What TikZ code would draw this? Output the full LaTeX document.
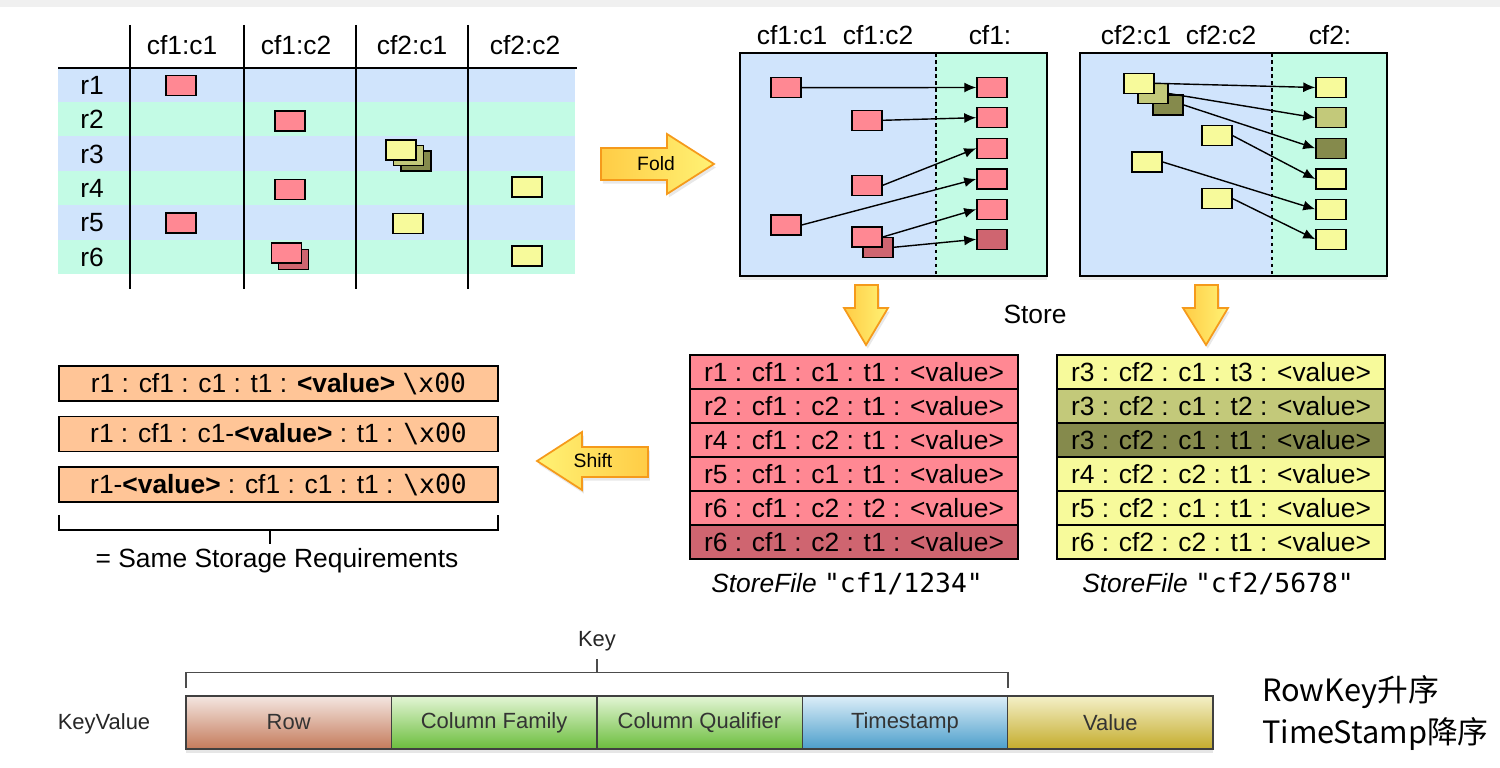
\documentclass[tikz,border=0pt]{standalone}
\usepackage{fontspec}
\setmainfont{Liberation Sans}
\setmonofont{DejaVu Sans Mono}
\newfontfamily\cjk{Noto Sans CJK SC}
\usepackage{xcolor}
\usepackage{tikz}
\usetikzlibrary{positioning,shadows,arrows.meta}
\definecolor{cellpink}{HTML}{FF8893}
\definecolor{cellpinkdk}{HTML}{CF6570}
\definecolor{cellyel}{HTML}{F7FA9B}
\definecolor{cellolv}{HTML}{C3C97A}
\definecolor{cellolvdk}{HTML}{858A4C}
\definecolor{bandblue}{HTML}{D0E4FC}
\definecolor{bandgreen}{HTML}{C3FBE5}
\definecolor{keypeach}{HTML}{FFC597}
\definecolor{arroworange}{HTML}{F59A1B}
\definecolor{arrowdark}{HTML}{FFCC45}
\definecolor{arrowlight}{HTML}{FFF275}
\definecolor{rowtop}{HTML}{F4E6E1}
\definecolor{rowbot}{HTML}{C47B5B}
\definecolor{cftop}{HTML}{E3F5D5}
\definecolor{cfbot}{HTML}{6BBD3C}
\definecolor{tstop}{HTML}{DCEEF8}
\definecolor{tsbot}{HTML}{4C9ECB}
\definecolor{valtop}{HTML}{F4F0C8}
\definecolor{valbot}{HTML}{C4AC2C}
\newcommand{\cellfont}{\fontsize{15}{18}\selectfont}
\newcommand{\barfont}{\fontsize{12.5}{15}\selectfont}
\tikzstyle{cell}=[draw=black,line width=0.85pt,minimum width=6mm,minimum height=4mm,inner sep=0pt]
\tikzstyle{entry}=[draw=black,line width=0.85pt,minimum width=65.6mm,minimum height=6.8mm,inner sep=0pt,font=\cellfont]
\tikzstyle{keyrow}=[draw=black,line width=0.85pt,fill=keypeach,minimum width=87.8mm,minimum height=7mm,inner sep=0pt,font=\cellfont]
\tikzstyle{blockarrow}=[draw=arroworange,line width=1pt,left color=arrowdark,right color=arrowlight,drop shadow={opacity=0.18,shadow xshift=1pt,shadow yshift=-2pt}]
\tikzstyle{kvpart}=[draw=black!75,line width=0.8pt,minimum width=41.08mm,minimum height=10.6mm,inner sep=0pt,font=\barfont,text=black!80,drop shadow={opacity=0.2,shadow xshift=0pt,shadow yshift=-2.5pt}]
\tikzset{>={Latex[length=2.4mm,width=2mm]}}

\begin{document}
\begin{tikzpicture}[x=0.2mm,y=-0.2mm]
\useasboundingbox (0,0) rectangle (1500,768);
\fill[black!6] (0,0) rectangle (1500,7);
% table of rows and columns
\foreach \i/\c in {1/bandblue,2/bandgreen,3/bandblue,4/bandgreen,5/bandblue,6/bandgreen}
  \fill[\c] (58,{67.7+(\i-1)*34.4}) rectangle (575,{67.7+\i*34.4});
\draw[line width=1.2pt] (58,67.7) -- (577,67.7);
\foreach \x in {130,244,356,468}
  \draw[line width=1.2pt] (\x,25) -- (\x,289);
\foreach \x/\t [count=\k] in {182/cf1:c1,296/cf1:c2,412/cf2:c1,525/cf2:c2}
  \node[font=\cellfont] (col\k) at (\x,45) {\t};
\foreach \i in {1,...,6}
  \node[font=\cellfont] (row\i) at (92,{85.2+(\i-1)*34.4}) {r\i};
\node[cell,fill=cellpink] (t11) at (181,85.5) {};
\node[cell,fill=cellpink] (t22) at (290,121) {};
\node[cell,fill=cellolvdk] (t33c) at (416,161) {};
\node[cell,fill=cellolv] (t33b) at (408.5,155.5) {};
\node[cell,fill=cellyel] (t33a) at (401,150) {};
\node[cell,fill=cellpink] (t42) at (290,189.5) {};
\node[cell,fill=cellyel] (t44) at (527,187) {};
\node[cell,fill=cellpink] (t51) at (181,223) {};
\node[cell,fill=cellyel] (t53) at (408,223.5) {};
\node[cell,fill=cellpinkdk] (t62b) at (293.5,259.5) {};
\node[cell,fill=cellpink] (t62a) at (286.5,253) {};
\node[cell,fill=cellyel] (t64) at (527,256) {};
% fold
\draw[blockarrow] (601,148) -- (667,148) -- (667,134) -- (714,164) -- (667,194) -- (667,180) -- (601,180) -- cycle;
\node[font=\fontsize{11}{13}\selectfont] (fold) at (656,164) {Fold};
% store cf1
\fill[bandblue,drop shadow={opacity=0.15,shadow xshift=0pt,shadow yshift=-2pt}] (740,53) rectangle (1047,276);
\fill[bandgreen] (936,53) rectangle (1047,276);
\draw[dash pattern=on 2pt off 2pt,line width=0.8pt] (936,53) -- (936,276);
\draw[line width=1.2pt] (740,53) rectangle (1047,276);
\node[font=\cellfont] (h1) at (792,35) {cf1:c1};
\node[font=\cellfont] (h2) at (878,35) {cf1:c2};
\node[font=\cellfont] (h3) at (990,35) {cf1:};
\foreach \i/\y/\c in {1/87.5/cellpink,2/117.7/cellpink,3/148.3/cellpink,4/179/cellpink,5/209.3/cellpink,6/239.3/cellpinkdk}
  \node[cell,fill=\c] (fa\i) at (992,\y) {};
\foreach \i/\x/\y/\c in {1/786/87.7/cellpink,2/867/120.3/cellpink,3/867/185.3/cellpink,4/786/225/cellpink,6/878/247.3/cellpinkdk,5/867/237/cellpink}
  \node[cell,fill=\c] (ca\i) at (\x,\y) {};
\foreach \i in {1,...,6}
  \draw[->,line width=0.8pt] (ca\i.east) -- (fa\i.west);
% store cf2
\fill[bandblue,drop shadow={opacity=0.15,shadow xshift=0pt,shadow yshift=-2pt}] (1080,53) rectangle (1387,276);
\fill[bandgreen] (1272,53) rectangle (1387,276);
\draw[dash pattern=on 2pt off 2pt,line width=0.8pt] (1272,53) -- (1272,276);
\draw[line width=1.2pt] (1080,53) rectangle (1387,276);
\node[font=\cellfont] (h4) at (1136,35) {cf2:c1};
\node[font=\cellfont] (h5) at (1221,35) {cf2:c2};
\node[font=\cellfont] (h6) at (1330,35) {cf2:};
\foreach \i/\y/\c in {1/87.5/cellyel,2/117.7/cellolv,3/148.3/cellolvdk,4/179/cellyel,5/209.3/cellyel,6/239.3/cellyel}
  \node[cell,fill=\c] (fb\i) at (1331,\y) {};
\foreach \i/\x/\y/\c in {3/1168/105/cellolvdk,2/1153/93.5/cellolv,1/1139/83.3/cellyel,4/1217/135.7/cellyel,5/1147/162/cellyel,6/1217/198.7/cellyel}
  \node[cell,fill=\c] (cb\i) at (\x,\y) {};
\foreach \i in {1,...,6}
  \draw[->,line width=0.8pt] (cb\i.east) -- (fb\i.west);
% store arrows
\draw[blockarrow] (855,285) -- (878,285) -- (878,308) -- (888,308) -- (866,345) -- (844,308) -- (855,308) -- cycle;
\draw[blockarrow] (1195,285) -- (1218,285) -- (1218,308) -- (1228,308) -- (1206,345) -- (1183,308) -- (1195,308) -- cycle;
\node[font=\cellfont] (store) at (1035,314) {Store};
% store files
\foreach \i/\t/\c in {1/{r1 : cf1 : c1 : t1 : <value>}/cellpink,2/{r2 : cf1 : c2 : t1 : <value>}/cellpink,3/{r4 : cf1 : c2 : t1 : <value>}/cellpink,4/{r5 : cf1 : c1 : t1 : <value>}/cellpink,5/{r6 : cf1 : c2 : t2 : <value>}/cellpink,6/{r6 : cf1 : c2 : t1 : <value>}/cellpinkdk}
  \node[entry,fill=\c] (sa\i) at (854,{338+\i*34}) {\t};
\foreach \i/\t/\c in {1/{r3 : cf2 : c1 : t3 : <value>}/cellyel,2/{r3 : cf2 : c1 : t2 : <value>}/cellolv,3/{r3 : cf2 : c1 : t1 : <value>}/cellolvdk,4/{r4 : cf2 : c2 : t1 : <value>}/cellyel,5/{r5 : cf2 : c1 : t1 : <value>}/cellyel,6/{r6 : cf2 : c2 : t1 : <value>}/cellyel}
  \node[entry,fill=\c] (sb\i) at (1221,{338+\i*34}) {\t};
\node[font=\cellfont] (fa) at (847,584) {\textit{StoreFile} \texttt{"cf1/1234"}};
\node[font=\cellfont] (fb) at (1218,584) {\textit{StoreFile} \texttt{"cf2/5678"}};
% shift
\draw[blockarrow,left color=arrowlight,right color=arrowdark] (648,447) -- (582,447) -- (582,432) -- (537,461) -- (582,490) -- (582,477) -- (648,477) -- cycle;
\node[font=\fontsize{11}{13}\selectfont] (shift) at (593,461) {Shift};
\node[keyrow] (k1) at (278.5,383.5) {r1 : cf1 : c1 : t1 : \textbf{<value>} \texttt{\textbackslash x00}};
\node[keyrow] (k2) at (278.5,434) {r1 : cf1 : c1-\textbf{<value>} : t1 : \texttt{\textbackslash x00}};
\node[keyrow] (k3) at (278.5,484.5) {r1-\textbf{<value>} : cf1 : c1 : t1 : \texttt{\textbackslash x00}};
\draw[line width=0.8pt] (59,515) -- (59,530) -- (498,530) -- (498,515);
\draw[line width=0.8pt] (270,530) -- (270,544);
\node[font=\cellfont] (same) at (277,561) {= Same Storage Requirements};
% key value layout
\foreach \i/\t/\ct/\cb in {1/Row/rowtop/rowbot,2/Column Family/cftop/cfbot,3/Column Qualifier/cftop/cfbot,4/Timestamp/tstop/tsbot,5/Value/valtop/valbot}
  \node[kvpart,top color=\ct,bottom color=\cb] (kv\i) at ({186+(\i-0.5)*205.4},722.5) {\t};
\draw[black!70,line width=0.7pt] (186,688) -- (186,672.7) -- (1008,672.7) -- (1008,688);
\draw[black!70,line width=0.7pt] (597,672.7) -- (597,659);
\node[font=\barfont,text=black!85] (key) at (597,641) {Key};
\node[font=\barfont,text=black!85] (kvlabel) at (104,724) {KeyValue};
\node[anchor=west,font=\cjk\fontsize{17.5}{20}\selectfont] (asc) at (1256,692) {RowKey升序};
\node[anchor=west,font=\cjk\fontsize{17.5}{20}\selectfont] (desc) at (1256,734) {TimeStamp降序};
\end{tikzpicture}
\end{document}
